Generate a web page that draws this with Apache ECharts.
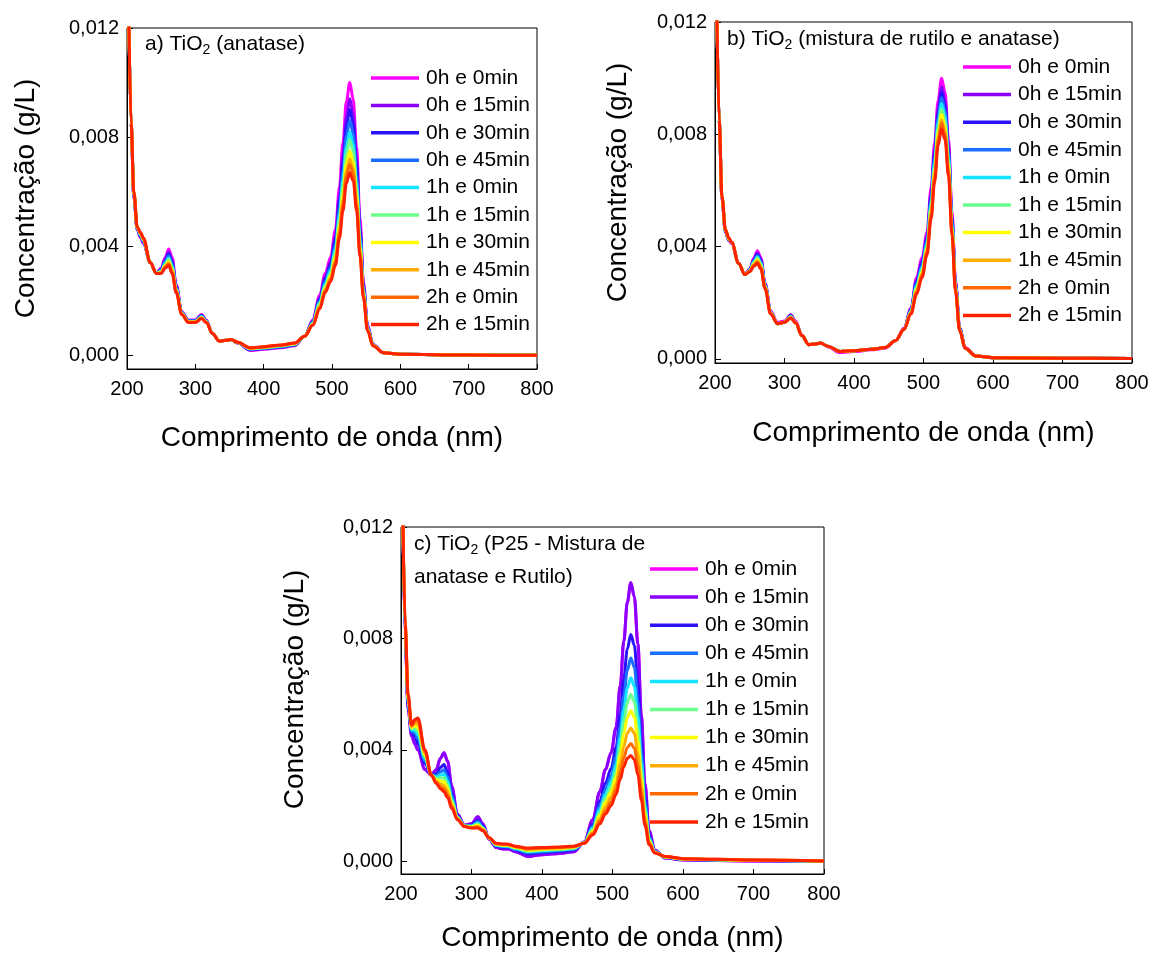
<!DOCTYPE html>
<html>
<head>
<meta charset="utf-8">
<script src="https://cdn.jsdelivr.net/npm/echarts@6/dist/echarts.min.js"></script>
<style>html,body{margin:0;padding:0;background:#fff}#chart{width:1152px;height:953px}</style>
</head>
<body>
<div id="chart"></div>
<script>
// Wavelength grid (nm) shared by all series
const wavelength = [202,206,210,215,220,224,234,243,250,256,261,266,272,280,290,300,309,316,325,335,345,352,362,380,400,425,445,460,472,482,490,498,505,511,516,521,526,531,536,541,546,552,560,575,600,700,800];
const seriesNames = ['0h e 0min','0h e 15min','0h e 30min','0h e 45min','1h e 0min','1h e 15min','1h e 30min','1h e 45min','2h e 0min','2h e 15min'];
const xTicks = [200,300,400,500,600,700,800];
const yTicks = [0,0.004,0.008,0.012];

// Concentrations in units of 1e-4 g/L
// a) TiO2 (anatase)
const a_0h00 = [135,85,58,46,43,41,34,30,32,36,39,36,26,16,13,13,15,13,8,5.2,5.5,5.8,4.5,1.8,2.2,2.8,3.5,7,13,22,30,36,46,62,78,93,100,94,76,50,27,11,4,1,0.4,0.1,0];
const a_0h15 = [135,85,58.4,46.2,43.4,41.4,34,30,31.6,35.3,37.9,34.9,25.5,15.8,12.8,12.8,14.7,12.8,8,5.2,5.5,5.8,4.6,2.0,2.4,3.0,3.7,7,12.6,21.1,28.7,34.4,43.7,58.6,73.5,87.6,94.1,88.6,71.9,47.5,25.9,10.6,3.9,1,0.4,0.1,0];
const a_0h30 = [135,85,58.6,46.3,43.6,41.6,34,30,31.4,34.8,37.2,34.2,25.1,15.7,12.7,12.7,14.6,12.7,8,5.2,5.5,5.8,4.6,2.1,2.5,3.1,3.8,7,12.4,20.5,27.9,33.3,42.1,56.3,70.5,84,90.1,85,69.1,45.8,25.2,10.4,3.9,1,0.4,0.1,0];
const a_0h45 = [135,85,58.8,46.4,43.8,41.8,34,30,31.2,34.3,36.5,33.5,24.7,15.6,12.6,12.6,14.4,12.6,8,5.2,5.5,5.8,4.6,2.2,2.6,3.2,3.9,7,12.2,19.9,27.1,32.2,40.5,54,67.5,80.4,86.1,81.4,66.3,44.1,24.5,10.2,3.8,1,0.4,0.1,0];
const a_1h00 = [135,85,59.1,46.6,44.1,42.1,34,30,30.9,33.8,35.7,32.7,24.4,15.5,12.5,12.5,14.2,12.5,8,5.2,5.5,5.8,4.7,2.4,2.8,3.4,4.1,7,11.9,19.3,26.2,31.1,38.9,51.6,64.3,76.5,81.9,77.5,63.4,42.3,23.7,9.9,3.7,1,0.4,0.1,0];
const a_1h15 = [135,85,59.3,46.6,44.3,42.3,34,30,30.7,33.4,35.2,32.2,24.1,15.4,12.4,12.4,14.0,12.4,8,5.2,5.5,5.8,4.7,2.4,2.8,3.4,4.1,7,11.7,18.8,25.5,30.2,37.7,49.8,62,73.8,78.9,74.8,61.3,41,23.2,9.7,3.7,1,0.4,0.1,0];
const a_1h30 = [135,85,59.5,46.8,44.5,42.5,34,30,30.5,33,34.4,31.4,23.7,15.2,12.2,12.2,13.9,12.2,8,5.2,5.5,5.8,4.7,2.6,3.0,3.6,4.3,7,11.5,18.2,24.7,29.2,36.1,47.6,59,70.2,74.9,71.2,58.5,39.4,22.4,9.5,3.6,1,0.4,0.1,0];
const a_1h45 = [135,85,59.7,46.9,44.7,42.7,34,30,30.3,32.6,33.9,30.9,23.5,15.2,12.2,12.2,13.7,12.2,8,5.2,5.5,5.8,4.8,2.7,3.1,3.7,4.4,7,11.3,17.8,24.1,28.4,35,45.9,56.8,67.5,72,68.5,56.5,38.1,21.9,9.3,3.6,1,0.4,0.1,0];
const a_2h00 = [135,85,59.8,46.9,44.8,42.8,34,30,30.2,32.4,33.5,30.5,23.3,15.1,12.1,12.1,13.6,12.1,8,5.2,5.5,5.8,4.8,2.7,3.1,3.7,4.4,7,11.2,17.5,23.6,27.8,34.2,44.7,55.3,65.7,70,66.7,55.1,37.3,21.5,9.2,3.5,1,0.4,0.1,0];
const a_2h15 = [135,85,60,47,45,43,34,30,30,32,33,30,23,15,12,12,13.5,12,8,5.2,5.5,5.8,4.8,2.8,3.2,3.8,4.5,7,11,17,23,27,33,43,53,63,67,64,53,36,21,9,3.5,1,0.4,0.1,0];

// b) TiO2 (mistura de rutilo e anatase)
const b_0h00 = [135,85,57,45,42,41,34,30,32,36,38.5,36,27,17,13,13.5,15.7,13.5,8.5,5,5.3,5.6,4.3,2.2,2.6,3.2,3.8,6.5,11,18,29,36,45,61,77,92,100,95,78,52,28,11,4,1,0.4,0.2,0.1];
const b_0h15 = [135,85,57.2,45.2,42.2,41.5,34,30,31.8,35.5,37.7,35.3,26.7,16.8,12.5,13,15.5,12.8,8.3,5,5.3,5.6,4.5,2.6,2.9,3.4,4,6.5,10.5,17.7,28,34.8,43.6,59.1,74.6,89.3,96.9,92.1,75.8,50.6,27.3,10.8,3.8,1,0.4,0.2,0.1];
const b_0h30 = [135,85,57.3,45.3,42.3,41.5,34,30,31.7,35.2,37.2,34.9,26.4,16.7,12.5,13,15.4,12.8,8.3,5,5.3,5.6,4.5,2.6,2.9,3.4,4,6.5,10.5,17.4,27.3,34,42.8,57.9,73.1,87.5,95,90.2,74.4,49.8,26.9,10.7,3.8,1,0.4,0.2,0.1];
const b_0h45 = [135,85,57.4,45.4,42.4,41.5,34,30,31.6,34.8,36.7,34.4,26.2,16.6,12.5,13,15.2,12.8,8.3,5,5.3,5.6,4.5,2.6,2.9,3.4,4,6.5,10.5,17.2,26.7,33.3,41.9,56.7,71.5,85.8,93,88.4,72.9,48.9,26.4,10.6,3.8,1,0.4,0.2,0.1];
const b_1h00 = [135,85,57.5,45.5,42.5,41.5,34,30,31.5,34.5,36.3,34,26,16.5,12.5,13,15.1,12.8,8.3,5,5.3,5.6,4.5,2.6,2.9,3.4,4,6.5,10.5,17,26,32.5,41,55.5,70,84,91,86.5,71.5,48,26,10.5,3.8,1,0.4,0.2,0.1];
const b_1h15 = [135,85,57.6,45.6,42.6,41.5,34,30,31.4,34.2,35.8,33.6,25.8,16.4,12.5,13,15,12.8,8.3,5,5.3,5.6,4.5,2.6,2.9,3.4,4,6.5,10.5,16.8,25.3,31.7,40.1,54.3,68.5,82.2,89,84.6,70.1,47.1,25.6,10.4,3.8,1,0.4,0.2,0.1];
const b_1h30 = [135,85,57.7,45.7,42.7,41.5,34,30,31.3,33.8,35.3,33.1,25.6,16.3,12.5,13,14.8,12.8,8.3,5,5.3,5.6,4.5,2.6,2.9,3.4,4,6.5,10.5,16.6,24.7,31,39.2,53.1,66.9,80.5,87,82.8,68.6,46.2,25.1,10.3,3.8,1,0.4,0.2,0.1];
const b_1h45 = [135,85,57.8,45.8,42.8,41.5,34,30,31.2,33.5,34.8,32.7,25.3,16.2,12.5,13,14.7,12.8,8.3,5,5.3,5.6,4.5,2.6,2.9,3.4,4,6.5,10.5,16.3,24,30.2,38.4,51.9,65.4,78.7,85.1,80.9,67.2,45.4,24.7,10.2,3.8,1,0.4,0.2,0.1];
const b_2h00 = [135,85,57.9,45.9,42.9,41.5,34,30,31.1,33.3,34.5,32.4,25.2,16.1,12.5,13,14.6,12.8,8.3,5,5.3,5.6,4.5,2.6,2.9,3.4,4,6.5,10.5,16.2,23.7,29.8,37.9,51.2,64.5,77.8,84,79.9,66.4,44.9,24.4,10.1,3.8,1,0.4,0.2,0.1];
const b_2h15 = [135,85,58,46,43,41.5,34,30,31,33,34,32,25,16,12.5,13,14.5,12.8,8.3,5,5.3,5.6,4.5,2.6,2.9,3.4,4,6.5,10.5,16,23,29,37,50,63,76,82,78,65,44,24,10,3.8,1,0.4,0.2,0.1];

// c) TiO2 (P25 - Mistura de anatase e Rutilo)
const c_0h00 = [135,80,55,45,42,40,33,31,33,37,39,36,27,17,13,13.5,16,13.5,8,5,4.5,4.5,3.5,1.8,2.4,2.9,3.5,7,15,25,33,39,48,63,79,93,100,95,78,52,28,11,4,1.2,0.5,0.2,0.1];
const c_0h15 = [135,80,55,45,42,40,33,31,33,37,39,36,27,17,13,13.5,16,13.5,8,5,4.5,4.5,3.5,1.8,2.4,2.9,3.5,7,15,25,33,39,48,63,79,93,100,95,78,52,28,11,4,1.2,0.5,0.2,0.1];
const c_0h30 = [135,81.5,56.5,46.2,44.7,42.1,35.1,31,31.5,33.7,34.8,32.1,24.6,16.4,12.9,13.1,14.8,12.8,8.2,5.5,5,5,4.1,2.7,3.2,3.6,4.1,6.9,13.4,21.6,28.2,33.3,40.8,53,65.5,76.2,81.4,77.5,63.9,43,23.5,9.5,3.7,1.4,0.7,0.3,0.1];
const c_0h45 = [135,82.2,57.2,46.7,45.9,43.9,36,31,30.8,32.2,32.9,30.3,23.5,16.1,12.8,12.8,14.3,12.4,8.2,5.7,5.3,5.2,4.4,3.1,3.5,3.9,4.4,6.8,12.6,20,26,30.7,37.6,48.4,59.4,68.6,73,69.6,57.6,39,21.5,8.8,3.6,1.5,0.7,0.3,0.1];
const c_1h00 = [135,82.8,57.8,47.2,47,45.4,36.9,31,30.3,31,31.3,28.9,22.6,15.9,12.7,12.7,13.8,12.1,8.3,5.8,5.5,5.4,4.6,3.5,3.8,4.2,4.6,6.7,12,18.7,24.2,28.6,34.8,44.6,54.3,62.2,65.9,62.8,52.2,35.5,19.8,8.3,3.5,1.5,0.8,0.4,0.2];
const c_1h15 = [135,83.2,58.2,47.6,47.8,46.7,37.5,31,29.8,29.9,30,27.6,21.8,15.7,12.7,12.5,13.4,11.9,8.3,6,5.7,5.6,4.8,3.7,4.1,4.4,4.8,6.7,11.5,17.6,22.7,26.7,32.5,41.4,50,56.9,60,57.3,47.7,32.7,18.3,7.8,3.4,1.6,0.8,0.4,0.2];
const c_1h30 = [135,83.7,58.7,48,48.7,48,38.2,31,29.3,28.9,28.6,26.4,21.1,15.5,12.6,12.4,13,11.7,8.4,6.1,5.8,5.8,5,4,4.3,4.6,5,6.6,10.9,16.5,21.2,24.9,30.2,38.2,45.7,51.6,54.1,51.7,43.2,29.8,16.9,7.3,3.3,1.6,0.9,0.4,0.2];
const c_1h45 = [135,84.2,59.2,48.4,49.6,49.3,38.9,31,28.8,27.8,27.2,25.1,20.3,15.3,12.6,12.2,12.6,11.4,8.4,6.3,6,5.9,5.2,4.3,4.6,4.8,5.2,6.6,10.4,15.3,19.6,23,27.8,34.9,41.2,46,47.9,45.9,38.5,26.8,15.4,6.8,3.2,1.7,0.9,0.5,0.2];
const c_2h00 = [135,84.7,59.7,48.7,50.4,50.6,39.5,31,28.4,26.8,26,23.9,19.6,15.1,12.5,12.1,12.3,11.2,8.5,6.4,6.2,6.1,5.4,4.6,4.8,5,5.4,6.5,9.9,14.3,18.1,21.3,25.7,31.8,37.2,40.9,42.3,40.6,34.3,24.1,14.1,6.4,3.1,1.8,1,0.5,0.2];
const c_2h15 = [135,85,60,49,51,51.5,40,31,28,26,25,23,19,15,12.5,12,12,11,8.5,6.5,6.3,6.2,5.5,4.8,5,5.2,5.5,6.5,9.5,13.5,17,20,24,29.5,34,37,38,36.5,31,22,13,6,3,1.8,1,0.5,0.2];

const panelA = [a_0h00,a_0h15,a_0h30,a_0h45,a_1h00,a_1h15,a_1h30,a_1h45,a_2h00,a_2h15];
const panelB = [b_0h00,b_0h15,b_0h30,b_0h45,b_1h00,b_1h15,b_1h30,b_1h45,b_2h00,b_2h15];
const panelC = [c_0h00,c_0h15,c_0h30,c_0h45,c_1h00,c_1h15,c_1h30,c_1h45,c_2h00,c_2h15];

const colors = ['#ff00ff','#8a00ff','#2a12ff','#1a6fff','#14e4ff','#6cff8c','#ffff00','#ffae00','#ff6a00','#ff2200'];
const FONT = 'Liberation Sans, Arial, sans-serif';

const grids = [
  {left:127, top:28, width:410, height:341},
  {left:715, top:22, width:417, height:341},
  {left:401, top:527, width:423, height:347}
];
const yMins = [-0.0005, -0.00015, -0.00045];
const yNameGaps = [87, 83, 92];
const yNamePads = [[0,0,0,0],[0,0,0,20],[0,0,0,22]];
const xNameGaps = [55, 56, 50];

const fmtY = v => v.toFixed(3).replace('.', ',');

const option = {
  backgroundColor: '#fff',
  animation: false,
  color: colors,
  grid: grids.map(g => Object.assign({show:true, borderColor:'#000', borderWidth:1, backgroundColor:'transparent'}, g)),
  xAxis: grids.map((g, i) => ({
    type:'value', gridIndex:i, min:200, max:800, interval:100,
    name:'Comprimento de onda (nm)', nameLocation:'middle', nameGap:xNameGaps[i],
    nameTextStyle:{fontFamily:FONT, fontSize:28, color:'#000'},
    axisLine:{show:true, onZero:false, lineStyle:{color:'#000', width:1}},
    axisTick:{show:true, inside:true, length:5, lineStyle:{color:'#000'}},
    axisLabel:{fontFamily:FONT, fontSize:20, color:'#000', margin:10, customValues:xTicks},
    splitLine:{show:false}
  })),
  yAxis: grids.map((g, i) => ({
    type:'value', gridIndex:i, min:yMins[i], max:0.012,
    name:'Concentração (g/L)', nameLocation:'middle', nameGap:yNameGaps[i], nameRotate:90,
    nameTextStyle:{fontFamily:FONT, fontSize:28, color:'#000', padding:yNamePads[i]},
    axisLine:{show:true, onZero:false, lineStyle:{color:'#000', width:1}},
    axisTick:{show:true, inside:true, length:6, lineStyle:{color:'#000'}, customValues:yTicks},
    axisLabel:{fontFamily:FONT, fontSize:20, color:'#000', margin:8, customValues:yTicks, formatter:fmtY},
    splitLine:{show:false}
  })),
  legend: [
    {left:371, top:66, itemGap:3.4},
    {left:963, top:55, itemGap:3.6},
    {left:650, top:557, itemGap:4.1}
  ].map(l => Object.assign({
    orient:'vertical', data:seriesNames, icon:'rect', itemWidth:48, itemHeight:3.5,
    padding:0, selectedMode:false,
    textStyle:{fontFamily:FONT, fontSize:21, color:'#000', lineHeight:24, padding:[0,0,0,2]}
  }, l)),
  graphic: [],
  series: []
};

const rich = {
  n:{fontFamily:FONT, fontSize:21, lineHeight:26, color:'#000'},
  s:{fontFamily:FONT, fontSize:14, lineHeight:12, verticalAlign:'bottom', color:'#000'}
};
option.graphic = [
  {type:'text', left:145, top:34, style:{text:'{n|a) TiO}{s|2}{n| (anatase)}', rich:rich}},
  {type:'text', left:727, top:29, style:{text:'{n|b) TiO}{s|2}{n| (mistura de rutilo e anatase)}', rich:rich}},
  {type:'text', left:414, top:534, style:{text:'{n|c) TiO}{s|2}{n| (P25 - Mistura de}', rich:rich}},
  {type:'text', left:414, top:567, style:{text:'{n|anatase e Rutilo)}', rich:rich}}
];

[panelA, panelB, panelC].forEach((panel, gi) => {
  panel.forEach((vals, si) => {
    option.series.push({
      type:'line', name:seriesNames[si], xAxisIndex:gi, yAxisIndex:gi,
      data: wavelength.map((w, k) => [w, vals[k] * 1e-4]),
      smooth:0.35, smoothMonotone:'x', showSymbol:false, symbol:'none',
      lineStyle:{width:3, color:colors[si]}, itemStyle:{color:colors[si]},
      clip:true, z:2+si
    });
  });
});

const chart = echarts.init(document.getElementById('chart'), null, {renderer:'canvas'});
chart.setOption(option);
</script>
</body>
</html>
